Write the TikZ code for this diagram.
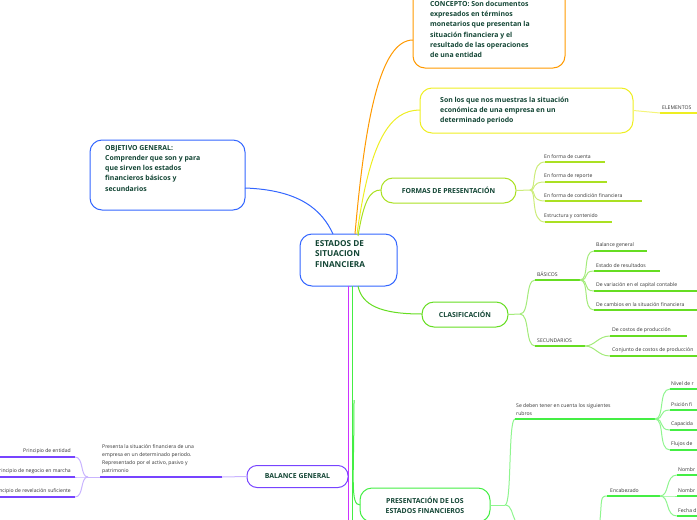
\documentclass[tikz,border=0pt]{standalone}
\usepackage{fontspec}
\setmainfont{Open Sans}
\begin{document}
\begin{tikzpicture}[x=1pt,y=-1pt,
 box/.style={draw,rounded corners=12pt,line width=1pt,inner sep=0pt},
 bt/.style={font=\bfseries\fontsize{6.9}{10.2}\selectfont,text=txt,align=left,anchor=north west,inner sep=0pt},
 st/.style={font=\fontsize{5.1}{8}\selectfont,text=black!80,anchor=south west,inner sep=1pt,align=left},
 ul/.style={line width=1.2pt},
 con/.style={line width=1pt}]
\definecolor{txt}{HTML}{114433}
\definecolor{cor}{HTML}{FF9900}\definecolor{cye}{HTML}{EEEE22}
\definecolor{cfo}{HTML}{AAE022}\definecolor{ccl}{HTML}{66DD22}
\definecolor{cpr}{HTML}{44EE44}\definecolor{cba}{HTML}{7744FF}
\definecolor{cmg}{HTML}{CC33FF}\definecolor{cbl}{HTML}{3366FF}
\useasboundingbox (0,0) rectangle (697,520);
% central
\node[box,draw=cbl,minimum width=97pt,minimum height=52pt] (c) at (348.5,260) {};
\node[bt,font=\bfseries\fontsize{8.2}{10.5}\selectfont] (ct) at (315,240) {ESTADOS DE\\SITUACION\\FINANCIERA};
% connectors from centre
\draw[con,cmg] (348,286) -- (348,520);
\draw[con,cpr] (352,286) -- (352,520);
% objetivo
\node[box,draw=cbl,minimum width=155pt,minimum height=70pt] (o) at (167.5,175) {};
\node[bt] (ot) at (105,145) {OBJETIVO GENERAL:\\Comprender que son y para\\que sirven los estados\\financieros básicos y\\secundarios};
\draw[con,cbl] (333,234) .. controls (322,210) and (300,190) .. (245,188);
% concepto
\node[box,draw=cor,minimum width=152pt,minimum height=88pt] (k) at (489,24) {};
\node[bt] (kt) at (430,1) {CONCEPTO: Son documentos\\expresados en términos\\monetarios que presentan la\\situación financiera y el\\resultado de las operaciones\\de una entidad};
\draw[con,cor] (355,234) .. controls (365,120) and (380,40) .. (413,40);
% yellow
\node[box,draw=cye,minimum width=213pt,minimum height=45pt] (y) at (526.5,110.5) {};
\node[bt] (yt) at (440,97) {Son los que nos muestras la situación\\económica de una empresa en un\\determinado periodo};
\draw[con,cye] (357,234) .. controls (370,140) and (390,110) .. (420,110);
\draw[con,cye!60] (y.east) -- (660,113);
\draw[ul,cye] (660,113) -- (697,113);
\node[st] (el) at (661,111) {ELEMENTOS};
% formas
\node[box,draw=cfo,minimum width=135pt,minimum height=25pt] (f) at (448.5,190.5) {};
\node[bt,anchor=center] (ft) at (448.5,190) {FORMAS DE PRESENTACIÓN};
\draw[con,cfo] (358,236) .. controls (364,200) and (370,190) .. (381,190);
\coordinate (fj) at (530,190);
\draw[con,cfo!60] (f.east) -- (fj);
\foreach \yy/\xe/\t in {154/605/En forma de cuenta,174/607/En forma de reporte,193/642/En  forma de condición financiera,214/612/Estructura y contenido}{
 \draw[con,cfo!60] (fj) .. controls (537,190) and (530,\yy+8) .. (545,\yy+8);
 \draw[ul,cfo] (545,\yy+8) -- (\xe,\yy+8);
 \node[st] at (543,\yy+6) {\t};}
% clasificacion
\node[box,draw=ccl,minimum width=86pt,minimum height=25pt] (cl) at (465,314.5) {};
\node[bt,anchor=center] (clt) at (465,314) {CLASIFICACIÓN};
\draw[con,ccl] (358,286) .. controls (362,305) and (380,314) .. (422,314);
\coordinate (cj) at (520,314);
\draw[con,ccl!60] (cl.east) -- (cj);
\draw[con,ccl!60] (cj) .. controls (530,314) and (525,280) .. (535,280);
\draw[con,ccl!60] (cj) .. controls (530,314) and (525,346) .. (535,346);
\draw[ul,ccl] (535,280) -- (580,280); \node[st] at (536,278) {BÁSICOS};
\draw[ul,ccl] (535,346) -- (585,346); \node[st] at (536,344) {SECUNDARIOS};
\foreach \yy/\xe/\t in {243/647/Balance general,263/660/Estado de resultados,283/697/De variación en el capital contable,302/697/De cambios en la situación financiera}{
 \draw[con,ccl!60] (580,280) .. controls (590,280) and (582,\yy+8) .. (594,\yy+8);
 \draw[ul,ccl] (594,\yy+8) -- (\xe,\yy+8);
 \node[st] at (595,\yy+6) {\t};}
\foreach \yy/\xe/\t in {328/687/De costos de producción,348/697/Conjunto de costos de producción}{
 \draw[con,ccl!60] (585,346) .. controls (595,346) and (598,\yy+8) .. (610,\yy+8);
 \draw[ul,ccl] (610,\yy+8) -- (\xe,\yy+8);
 \node[st] at (611,\yy+6) {\t};}
% presentacion
\node[box,draw=cpr,minimum width=130pt,minimum height=34pt] (p) at (425,505) {};
\node[bt,anchor=center,align=center] (pt) at (425,505) {PRESENTACIÓN DE LOS\\ESTADOS FINANCIEROS};
\draw[con,cpr] (354,400) .. controls (354,480) and (350,505) .. (360,505);
\coordinate (pj) at (505,505);
\draw[con,cpr!60] (p.east) -- (pj);
\draw[con,cpr!60] (pj) .. controls (512,505) and (508,419) .. (515,419);
\draw[con,cpr!60] (pj) .. controls (512,505) and (512,515) .. (515,520);
\draw[ul,cpr] (515,419) -- (655,419);
\node[st] at (515,417) {Se deben tener en cuenta los siguientes\\rubros};
\foreach \yy/\t in {381/Nivel de r,402/Psición fi,422/Capacida,442/Flujos de}{
 \draw[con,cpr!60] (655,419) .. controls (665,419) and (658,\yy+8) .. (670,\yy+8);
 \draw[ul,cpr] (670,\yy+8) -- (697,\yy+8);
 \node[st] at (670,\yy+6) {\t};}
\draw[con,cpr!60] (600,520) .. controls (602,500) and (600,496) .. (607,496);
\draw[ul,cpr] (607,496) -- (660,496); \node[st] at (609,494) {Encabezado};
\foreach \yy/\t in {467/Nombr,488/Nombr,508/Fecha d}{
 \draw[con,cpr!60] (660,496) .. controls (670,496) and (665,\yy+8) .. (677,\yy+8);
 \draw[ul,cpr] (677,\yy+8) -- (697,\yy+8);
 \node[st] at (677,\yy+6) {\t};}
% balance general
\node[box,draw=cba,minimum width=101pt,minimum height=22pt,rounded corners=10pt] (b) at (297.5,476.5) {};
\node[bt,anchor=center] (btx) at (297.5,476.5) {BALANCE GENERAL};
\draw[con,cba!40] (b.west) -- (222,477);
\draw[ul,cba] (222,477) -- (100,477);
\node[st] at (101,475) {Presenta la situación financiera de una\\empresa en un determinado periodo.\\Representado por el activo, pasivo y\\patrimonio};
\coordinate (bj) at (88,477);
\draw[con,cba!40] (100,477) -- (bj);
\foreach \yy/\t in {457/Principio de entidad,477/Principio de negocio en marcha,497/Principio de revelación suficiente}{
 \draw[con,cba!40] (bj) .. controls (80,477) and (84,\yy) .. (75,\yy);
 \draw[ul,cba] (75,\yy) -- (-50,\yy);
 \node[st,anchor=south east] at (72,\yy-2) {\t};}
\end{tikzpicture}
\end{document}
